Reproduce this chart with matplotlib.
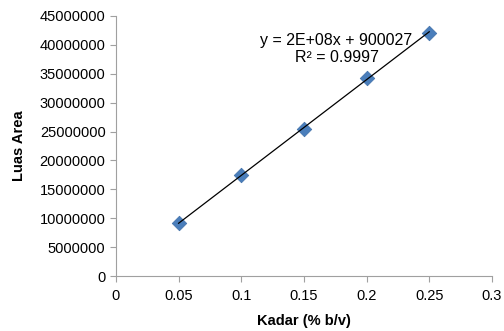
import matplotlib
matplotlib.use("Agg")
import matplotlib.pyplot as plt
import numpy as np

plt.rcParams['font.family'] = ['Liberation Sans', 'DejaVu Sans']

kadar = [0.05, 0.10, 0.15, 0.20, 0.25]
luas_area = [9150000, 17400000, 25500000, 34300000, 42100000]
x_ticks = [0, 0.05, 0.1, 0.15, 0.2, 0.25, 0.3]
x_tick_labels = ["0", "0.05", "0.1", "0.15", "0.2", "0.25", "0.3"]
y_ticks = list(range(0, 45000001, 5000000))
eq_text = "y = 2E+08x + 900027\nR² = 0.9997"

fig = plt.figure(figsize=(5.04, 3.31), dpi=100)
ax = fig.add_axes([0.230, 0.166, 0.746, 0.786])

# trendline from least squares fit
slope, icpt = np.polyfit(kadar, luas_area, 1)
xs = np.array([kadar[0], kadar[-1]])
ax.plot(xs, slope * xs + icpt, color="black", lw=0.9, zorder=3)
ax.scatter(kadar, luas_area, marker="D", s=55, color="#4a7ebb",
           edgecolor="#3f6fa8", linewidth=0.5, zorder=2)

ax.set_xlim(0, 0.3)
ax.set_ylim(0, 45000000)
ax.set_xticks(x_ticks)
ax.set_xticklabels(x_tick_labels)
ax.set_yticks(y_ticks)
ax.set_yticklabels([str(v) for v in y_ticks])

for side in ["top", "right"]:
    ax.spines[side].set_visible(False)
for side in ["left", "bottom"]:
    ax.spines[side].set_color("#a0a0a0")
    ax.spines[side].set_linewidth(0.8)
ax.tick_params(axis="both", colors="#a0a0a0", labelcolor="black",
               labelsize=10.5, length=4, width=0.8)
ax.tick_params(axis="x", pad=5)

ax.set_xlabel("Kadar (% b/v)", fontsize=10.5, fontweight="bold", labelpad=8)
ax.set_ylabel("Luas Area", fontsize=10.5, fontweight="bold", labelpad=10)

ax.text(0.176, 39300000, eq_text, ha="center", va="center",
        fontsize=11.5, linespacing=1.15)

fig.savefig("out.png", dpi=100)
